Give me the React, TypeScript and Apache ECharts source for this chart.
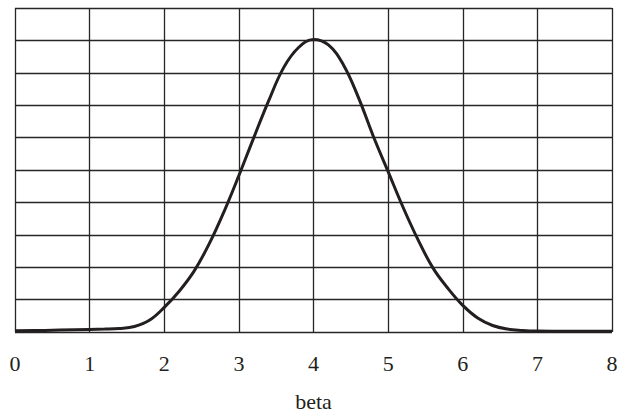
import React, { useEffect, useRef } from "react";
import * as echarts from "echarts";

const betaValues = [0, 0.4, 0.8, 1.2, 1.4, 1.6, 1.8, 2.0, 2.2, 2.4, 2.6, 2.8, 3.0, 3.2, 3.4, 3.6, 3.8, 4.0, 4.2, 4.4, 4.6, 4.8, 5.0, 5.2, 5.4, 5.6, 5.8, 6.0, 6.2, 6.4, 6.6, 6.8, 7.0, 7.4, 8.0];
const densityValues = [0.04, 0.05, 0.07, 0.09, 0.11, 0.17, 0.36, 0.76, 1.26, 1.88, 2.71, 3.71, 4.83, 6.0, 7.14, 8.16, 8.78, 9.03, 8.86, 8.25, 7.25, 6.05, 4.95, 3.85, 2.85, 1.98, 1.35, 0.82, 0.43, 0.2, 0.09, 0.05, 0.03, 0.02, 0.02];
const xTickLabels = ["0", "1", "2", "3", "4", "5", "6", "7", "8"];
const xAxisName = "beta";

export default function App() {
  const ref = useRef<HTMLDivElement>(null);
  useEffect(() => {
    if (!ref.current) return;
    const chart = echarts.init(ref.current, null, { renderer: "svg" });
    const font = "Liberation Serif";
    chart.setOption({
      animation: false,
      backgroundColor: "#ffffff",
      grid: {
        left: 15,
        right: 5,
        top: 8,
        height: 324,
        containLabel: false,
        outerBoundsMode: "none",
      },
      xAxis: {
        type: "value",
        min: 0,
        max: 8,
        interval: 1,
        name: xAxisName,
        nameLocation: "middle",
        nameGap: 58,
        nameTextStyle: { fontFamily: font, fontSize: 22, color: "#231f20" },
        axisLine: { show: false },
        axisTick: { show: false },
        axisLabel: {
          margin: 20,
          fontFamily: font,
          fontSize: 22,
          color: "#231f20",
          formatter: (v: number) => xTickLabels[Math.round(v)] ?? "",
        },
        splitLine: { show: true, lineStyle: { color: "#262626", width: 1.3 } },
      },
      yAxis: {
        type: "value",
        min: 0,
        max: 10,
        interval: 1,
        axisLine: { show: false },
        axisTick: { show: false },
        axisLabel: { show: false },
        splitLine: { show: true, lineStyle: { color: "#262626", width: 1.3 } },
      },
      series: [
        {
          type: "line",
          data: betaValues.map((b, i) => [b, densityValues[i]]),
          smooth: 0.4,
          showSymbol: false,
          lineStyle: { color: "#231f20", width: 3 },
        },
      ],
    });
    return () => chart.dispose();
  }, []);
  return (
    <div
      ref={ref}
      style={{ position: "absolute", left: 0, top: 0, width: 617, height: 415 }}
    />
  );
}
